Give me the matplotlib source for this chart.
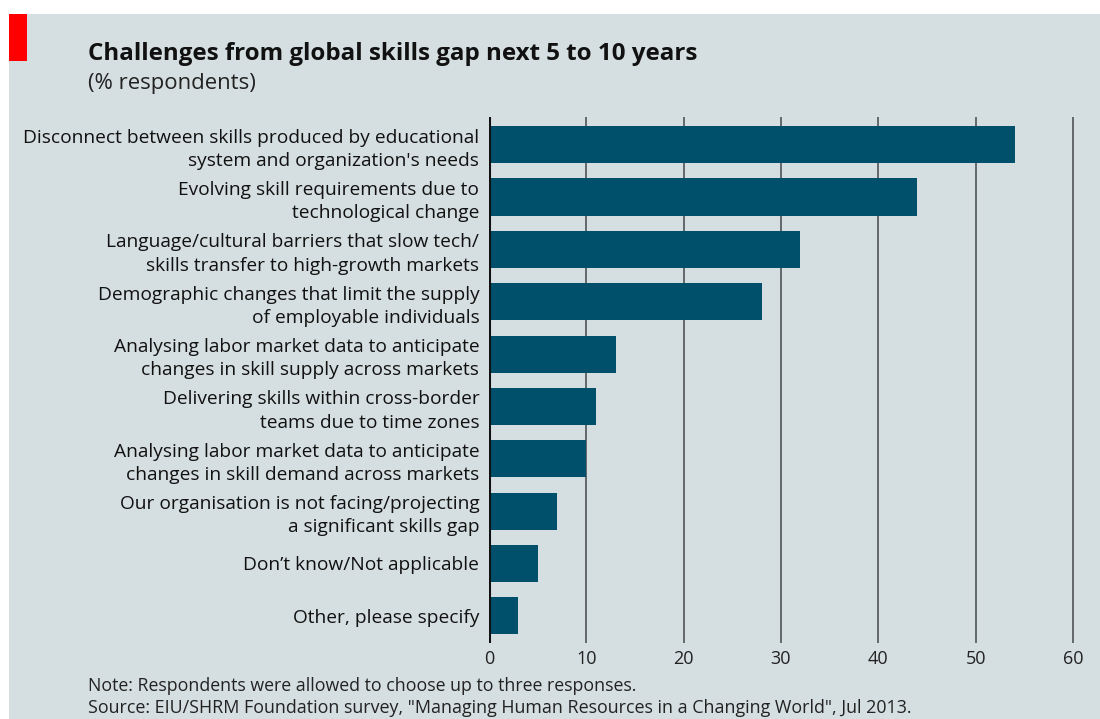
import matplotlib
matplotlib.use("Agg")
import matplotlib.pyplot as plt
from matplotlib.patches import Rectangle

categories = [
    "Disconnect between skills produced by educational\nsystem and organization's needs",
    "Evolving skill requirements due to\ntechnological change",
    "Language/cultural barriers that slow tech/\nskills transfer to high-growth markets",
    "Demographic changes that limit the supply\nof employable individuals",
    "Analysing labor market data to anticipate\nchanges in skill supply across markets",
    "Delivering skills within cross-border\nteams due to time zones",
    "Analysing labor market data to anticipate\nchanges in skill demand across markets",
    "Our organisation is not facing/projecting\na significant skills gap",
    "Don’t know/Not applicable",
    "Other, please specify",
]
values = [54, 44, 32, 28, 13, 11, 10, 7, 5, 3]
xticks = [0, 10, 20, 30, 40, 50, 60]

title = "Challenges from global skills gap next 5 to 10 years"
subtitle = "(% respondents)"
note = "Note: Respondents were allowed to choose up to three responses."
source = 'Source: EIU/SHRM Foundation survey, "Managing Human Resources in a Changing World", Jul 2013.'

BG = "#d5dee0"
BAR = "#004f6b"
FONT = "Open Sans"
plt.rcParams['font.family'] = [FONT, 'DejaVu Sans']

W, H = 1100, 719
fig = plt.figure(figsize=(W / 100, H / 100), dpi=100)
fig.patch.set_facecolor("white")

# gray panel
fig.patches.append(Rectangle((9 / W, 0), 1 - 9 / W, 1 - 14 / H, transform=fig.transFigure,
                             facecolor=BG, edgecolor="none", zorder=-2))
# red block
fig.patches.append(Rectangle((9 / W, 1 - 61 / H), 18 / W, 47 / H, transform=fig.transFigure,
                             facecolor="#ff0000", edgecolor="none", zorder=-1))

x0 = 489
px_per_unit = 9.733
xmax = 61
left = x0 / W
right = (x0 + xmax * px_per_unit) / W
bottom = 1 - 643 / H
top = 1 - 117 / H
ax = fig.add_axes([left, bottom, right - left, top - bottom])
ax.set_zorder(5)
ax.set_facecolor("none")

y = list(range(len(categories)))
ax.barh(y, values, height=0.71, color=BAR, zorder=3)
ax.set_ylim(len(categories) - 0.48, -0.53)
ax.set_xlim(0, xmax)

for t in xticks[1:]:
    ax.axvline(t, color="#5a5f61", lw=1.3, zorder=1)
ax.axvline(0, color="#111111", lw=2.2, zorder=4)

for s in ax.spines.values():
    s.set_visible(False)
ax.set_xticks(xticks)
ax.set_xticklabels([str(t) for t in xticks])
ax.tick_params(axis="x", length=0, pad=5, labelsize=13, labelcolor="#222222")
ax.set_yticks(y)
ax.set_yticklabels(categories, fontsize=13.8, color="#111111", linespacing=1.38)
ax.tick_params(axis="y", length=0, pad=7)
for lbl in ax.get_yticklabels():
    lbl.set_horizontalalignment("right")
    lbl.set_multialignment("right")

fig.text(88 / W, 1 - 54 / H, title, fontsize=17.4, fontweight="bold", color="#111111",
         va="center", ha="left")
fig.text(88 / W, 1 - 84 / H, subtitle, fontsize=15.9, color="#222222", va="center", ha="left")
fig.text(88 / W, 1 - 686 / H, note, fontsize=12.8, color="#222222", va="center", ha="left")
fig.text(88 / W, 1 - 708 / H, source, fontsize=12.9, color="#222222", va="center", ha="left")

fig.savefig("out.png", dpi=100, facecolor=fig.get_facecolor())
